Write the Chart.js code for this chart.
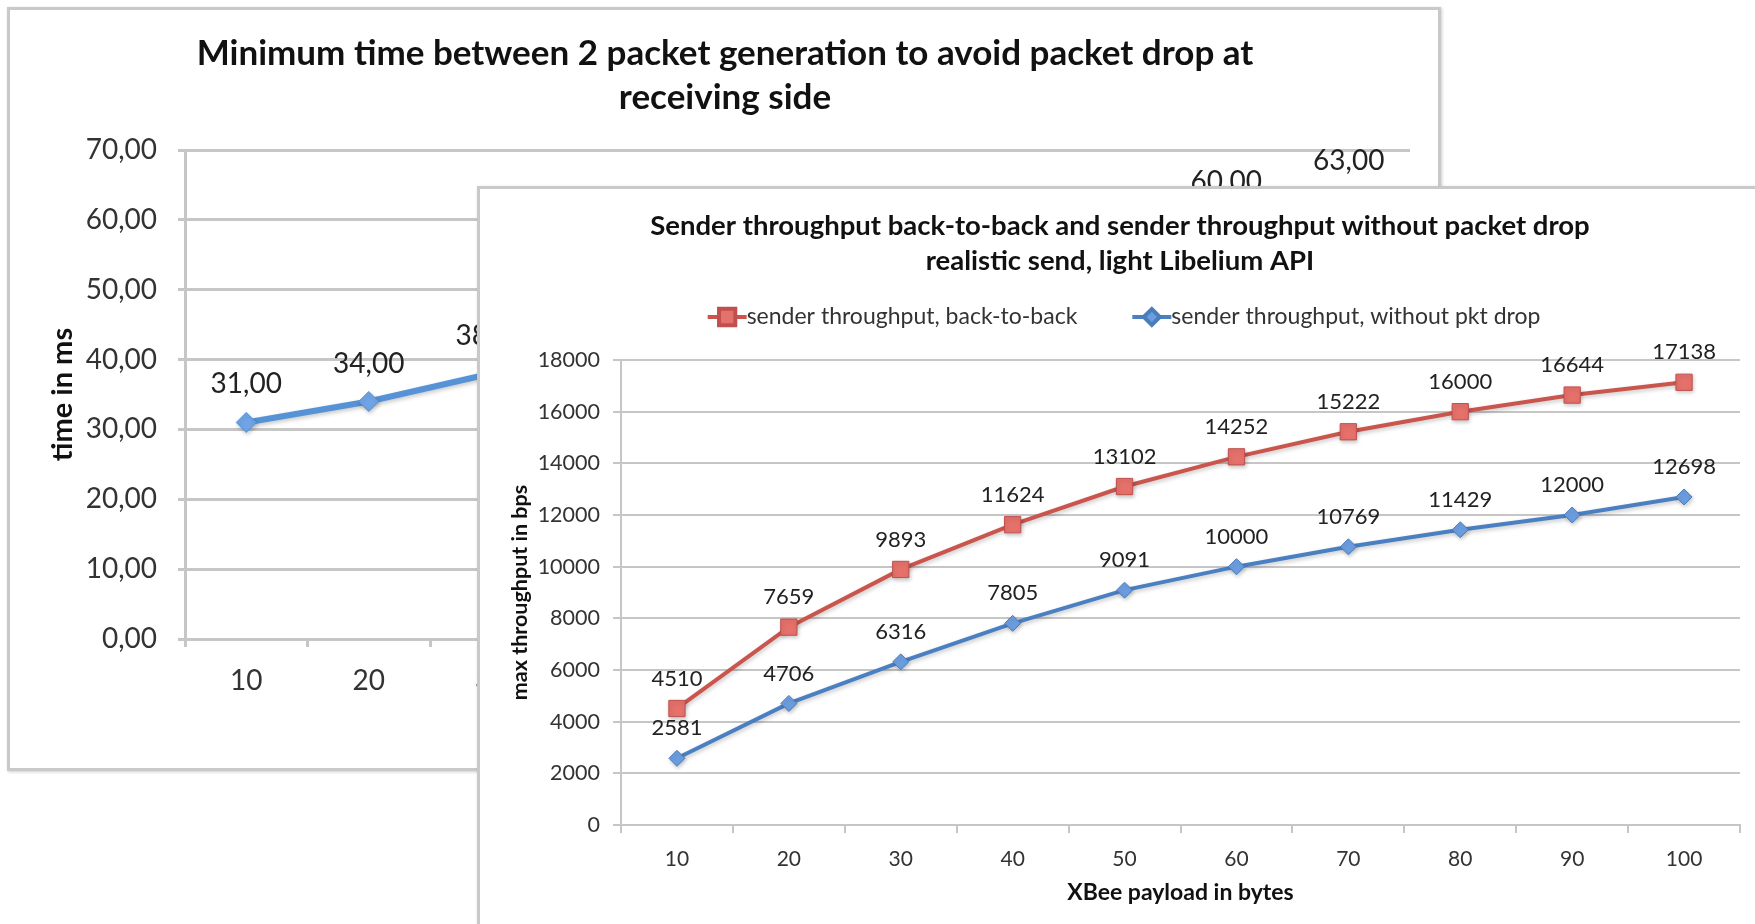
<!DOCTYPE html>
<html>
<head>
<meta charset="utf-8">
<script src="https://cdn.jsdelivr.net/npm/chart.js@4.4.0/dist/chart.umd.min.js"></script>
<style>
  html, body { margin: 0; padding: 0; background: #fff; overflow: hidden; }
  body { width: 1755px; height: 924px; position: relative; }
  .box { position: absolute; background: #fff; border: 3px solid #c9c9c9; box-shadow: 1px 1px 3px rgba(0,0,0,.2); }
  #backBox { left: 7px; top: 7px; width: 1428px; height: 758px; }
  #frontBox { left: 477px; top: 186px; width: 1300px; height: 760px; }
  canvas { display: block; }
</style>
</head>
<body>
<div class="box" id="backBox"><canvas id="back_chart" width="1428" height="758"></canvas></div>
<div class="box" id="frontBox"><canvas id="front_chart" width="1300" height="760"></canvas></div>
<script>
// x categories: XBee payload in bytes
const payload = ['10', '20', '30', '40', '50', '60', '70', '80', '90', '100'];

// back chart: minimum time between 2 packets (ms)
const minTime = [31, 34, 38, 41, 44, 48, 52, 56, 60, 63];
const timeTicks = [0, 10, 20, 30, 40, 50, 60, 70];

// front chart: sender throughput (bps)
const backToBack = [4510, 7659, 9893, 11624, 13102, 14252, 15222, 16000, 16644, 17138];
const noPktDrop = [2581, 4706, 6316, 7805, 9091, 10000, 10769, 11429, 12000, 12698];
const bpsTicks = [0, 2000, 4000, 6000, 8000, 10000, 12000, 14000, 16000, 18000];

Chart.defaults.font.family = 'Lato';
Chart.defaults.color = '#333';

const gridGray = '#c6c6c6';
const red = '#c9554d';
const blue = '#4a80c2';

// value labels above every point
function pointLabels(format, offset, font) {
    return {
        id: 'pointLabels',
        afterDatasetsDraw(chart) {
            const ctx = chart.ctx;
            ctx.save();
            ctx.font = font;
            ctx.fillStyle = '#222';
            ctx.textAlign = 'center';
            ctx.textBaseline = 'middle';
            chart.data.datasets.forEach((ds, i) => {
                chart.getDatasetMeta(i).data.forEach((pt, j) => {
                    ctx.fillText(format(ds.data[j]), pt.x, pt.y - offset);
                });
            });
            ctx.restore();
        }
    };
}

// soft shadow under the lines, like the office chart
const lineShadow = {
    id: 'lineShadow',
    beforeDatasetsDraw(chart) {
        const ctx = chart.ctx;
        ctx.save();
        ctx.shadowColor = 'rgba(0,0,0,0.22)';
        ctx.shadowBlur = 4;
        ctx.shadowOffsetX = 1;
        ctx.shadowOffsetY = 2;
    },
    afterDatasetsDraw(chart) {
        chart.ctx.restore();
    }
};

// legend with line + marker symbols
const lineLegend = {
    id: 'lineLegend',
    afterDraw(chart) {
        const ctx = chart.ctx;
        const y = 128, lineLen = 39, gap = 55;
        ctx.save();
        ctx.font = '23px Lato';
        const items = chart.data.datasets.map(ds => ({ ds: ds, w: lineLen + ctx.measureText(ds.label).width }));
        const total = items.reduce((s, it) => s + it.w, 0) + gap * (items.length - 1);
        const tb = chart.titleBlock;
        let x = (tb.left + tb.right) / 2 - total / 2 + 4;
        items.forEach(it => {
            const ds = it.ds;
            ctx.strokeStyle = ds.borderColor;
            ctx.lineWidth = 4;
            ctx.beginPath();
            ctx.moveTo(x, y);
            ctx.lineTo(x + lineLen, y);
            ctx.stroke();
            ctx.fillStyle = ds.pointBackgroundColor;
            ctx.strokeStyle = ds.pointBorderColor;
            Chart.helpers.drawPoint(ctx, {
                pointStyle: ds.pointStyle,
                radius: ds.pointRadius,
                rotation: 0,
                borderWidth: ds.pointBorderWidth
            }, x + lineLen / 2, y);
            ctx.fillStyle = '#333';
            ctx.textAlign = 'left';
            ctx.textBaseline = 'middle';
            ctx.fillText(ds.label, x + lineLen, y);
            x += it.w + gap;
        });
        ctx.restore();
    }
};

const ctx1 = document.getElementById('back_chart');

const backChart = new Chart(ctx1, {
    type: 'line',
    data: {
        labels: payload,
        datasets: [{
            label: 'time',
            data: minTime,
            borderColor: '#5592d6',
            borderWidth: 6,
            pointStyle: 'rectRot',
            pointRadius: 10,
            pointBackgroundColor: '#70a4e6',
            pointBorderColor: '#5592d6',
            pointBorderWidth: 1,
            tension: 0
        }]
    },
    options: {
        responsive: false,
        animation: false,
        events: [],
        layout: { padding: { left: 30, right: 28, top: 0, bottom: 0 } },
        plugins: {
            legend: { display: false },
            tooltip: { enabled: false },
            title: {
                display: true,
                text: ['Minimum time between 2 packet generation to avoid packet drop at', 'receiving side'],
                color: '#111',
                font: { size: 35, weight: 'bold', lineHeight: 44 / 35 },
                padding: { top: 22, bottom: 30 }
            }
        },
        scales: {
            x: {
                offset: true,
                afterFit: s => { s.height = 129; },
                grid: { offset: true, drawOnChartArea: false, color: gridGray, lineWidth: 3, tickLength: 8 },
                border: { color: gridGray, width: 3 },
                ticks: { font: { size: 28 }, padding: 17 }
            },
            y: {
                min: 0,
                max: 70,
                afterFit: s => { s.width = 145; },
                afterBuildTicks: s => { s.ticks = timeTicks.map(v => ({ value: v })); },
                grid: { color: gridGray, lineWidth: 3, tickLength: 7 },
                border: { color: gridGray, width: 3 },
                ticks: {
                    font: { size: 28 },
                    padding: 21,
                    callback: v => v.toFixed(2).replace('.', ',')
                },
                title: {
                    display: true,
                    text: 'time in ms',
                    color: '#111',
                    font: { size: 29, weight: 'bold' },
                    padding: { top: 5, bottom: 0 }
                }
            }
        }
    },
    plugins: [lineShadow, pointLabels(v => v.toFixed(2).replace('.', ','), 38, '28px Lato')]
});

const ctx2 = document.getElementById('front_chart');

const frontChart = new Chart(ctx2, {
    type: 'line',
    data: {
        labels: payload,
        datasets: [{
            label: 'sender throughput, back-to-back',
            data: backToBack,
            borderColor: red,
            borderWidth: 4,
            pointStyle: 'rect',
            pointRadius: 11.5,
            pointBackgroundColor: '#e6716b',
            pointBorderColor: '#c0504d',
            pointBorderWidth: 1,
            tension: 0
        }, {
            label: 'sender throughput, without pkt drop',
            data: noPktDrop,
            borderColor: blue,
            borderWidth: 4,
            pointStyle: 'rectRot',
            pointRadius: 8,
            pointBackgroundColor: '#6b9de0',
            pointBorderColor: '#4a7ebb',
            pointBorderWidth: 1,
            tension: 0
        }]
    },
    options: {
        responsive: false,
        animation: false,
        events: [],
        layout: { padding: { left: 20, right: 40, top: 0, bottom: 43 } },
        plugins: {
            legend: { display: false },
            tooltip: { enabled: false },
            title: {
                display: true,
                text: ['Sender throughput back-to-back and sender throughput without packet drop', 'realistic send, light Libelium API'],
                color: '#111',
                font: { size: 27.5, weight: 'bold', lineHeight: 35 / 27.5 },
                padding: { top: 20, bottom: 81 }
            }
        },
        scales: {
            x: {
                offset: true,
                afterFit: s => { s.height = 81; },
                grid: { offset: true, drawOnChartArea: false, color: gridGray, lineWidth: 2, tickLength: 8 },
                border: { color: gridGray, width: 2 },
                ticks: { font: { size: 21 }, padding: 14 },
                title: {
                    display: true,
                    text: 'XBee payload in bytes',
                    color: '#111',
                    font: { size: 23, weight: 'bold' },
                    padding: { top: 0, bottom: 0 }
                }
            },
            y: {
                min: 0,
                max: 18000,
                afterFit: s => { s.width = 121; },
                afterBuildTicks: s => { s.ticks = bpsTicks.map(v => ({ value: v })); },
                grid: { color: gridGray, lineWidth: 2, tickLength: 8 },
                border: { color: gridGray, width: 2 },
                ticks: { font: { size: 21.5 }, padding: 13, callback: v => String(v) },
                title: {
                    display: true,
                    text: 'max throughput in bps',
                    color: '#111',
                    font: { size: 21.5, weight: 'bold' },
                    padding: { top: 7, bottom: 0 }
                }
            }
        }
    },
    plugins: [lineShadow, pointLabels(v => String(v), 30, '22px Lato'), lineLegend]
});
</script>
</body>
</html>
